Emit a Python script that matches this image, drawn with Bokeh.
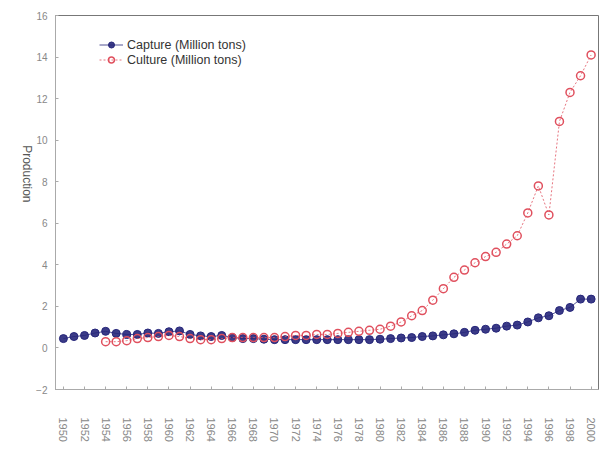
import math
from bokeh.plotting import figure
from bokeh.models import Range1d, FixedTicker, Legend, LegendItem
from bokeh.embed import file_html
from bokeh.resources import INLINE

years = list(range(1950, 2001))
capture = [0.45, 0.55, 0.6, 0.72, 0.8, 0.7, 0.65, 0.65, 0.72, 0.7,
           0.78, 0.82, 0.65, 0.58, 0.55, 0.6, 0.5, 0.45, 0.45, 0.42,
           0.4, 0.4, 0.4, 0.4, 0.4, 0.4, 0.4, 0.4, 0.4, 0.4,
           0.42, 0.45, 0.48, 0.5, 0.55, 0.58, 0.63, 0.68, 0.75, 0.85,
           0.9, 0.95, 1.05, 1.1, 1.25, 1.45, 1.55, 1.8, 1.95, 2.35, 2.35]
culture_years = list(range(1954, 2001))
culture = [0.3, 0.3, 0.35, 0.45, 0.5, 0.55, 0.6, 0.55, 0.45, 0.4,
           0.4, 0.45, 0.5, 0.5, 0.5, 0.5, 0.5, 0.55, 0.6, 0.6,
           0.65, 0.65, 0.7, 0.75, 0.8, 0.85, 0.9, 1.05, 1.25, 1.55,
           1.8, 2.3, 2.85, 3.4, 3.75, 4.1, 4.4, 4.6, 5.0, 5.4,
           6.5, 7.8, 6.4, 10.9, 12.3, 13.1, 14.1]
x_ticks = list(range(1950, 2001, 2))
y_ticks = list(range(-2, 17, 2))

blue = "#26267a"
red = "#e0505e"

p = figure(width=605, height=455, output_backend="svg", toolbar_location=None,
           x_range=Range1d(1949.25, 2000.7), y_range=Range1d(-2, 16),
           min_border_left=55, min_border_right=7, min_border_top=15,
           min_border_bottom=66)
p.background_fill_color = "white"
p.border_fill_color = "white"
p.outline_line_color = "#777777"
p.outline_line_width = 1
p.xgrid.visible = False
p.ygrid.visible = False

for ax in (p.xaxis[0], p.yaxis[0]):
    ax.axis_line_color = "#aaaaaa"
    ax.major_tick_line_color = "#aaaaaa"
    ax.minor_tick_line_color = None
    ax.major_label_text_color = "#888888"
    ax.major_label_text_font = "Liberation Sans"
    ax.major_tick_in = 3
    ax.major_tick_out = 0

p.xaxis.ticker = FixedTicker(ticks=x_ticks)
p.xaxis.major_label_orientation = -math.pi / 2
p.xaxis.major_label_standoff = 28
p.xaxis.major_label_text_font_size = "11px"
p.yaxis.ticker = FixedTicker(ticks=y_ticks)
p.yaxis.major_label_standoff = 8
p.yaxis.major_label_text_font_size = "10px"
p.yaxis.axis_label = "Production"
p.yaxis.axis_label_orientation = -math.pi / 2
p.yaxis.axis_label_text_font = "Liberation Sans"
p.yaxis.axis_label_text_font_size = "12px"
p.yaxis.axis_label_text_font_style = "normal"
p.yaxis.axis_label_text_color = "#555555"
p.yaxis.axis_label_standoff = 6

r1l = p.line(years, capture, line_color=blue, line_width=0.8)
r1 = p.scatter(years, capture, size=8, marker="circle",
               fill_color=blue, line_color=blue, fill_alpha=0.9)
r2l = p.line(culture_years, culture, line_color=red, line_width=0.8,
             line_dash="2 2")
r2 = p.scatter(culture_years, culture, size=8, marker="circle",
               fill_color=None, line_color=red, line_width=1.5)

legend = Legend(items=[
    LegendItem(label="Capture (Million tons)", renderers=[r1l, r1]),
    LegendItem(label="Culture (Million tons)", renderers=[r2l, r2]),
], location=(44, 322))
legend.label_text_font = "Liberation Sans"
legend.label_text_font_size = "12.5px"
legend.label_text_color = "#333333"
legend.border_line_color = None
legend.background_fill_alpha = 0
legend.margin = 0
legend.padding = 0
legend.spacing = 0
legend.label_height = 15
legend.glyph_height = 15
legend.glyph_width = 24
legend.label_standoff = 4
p.add_layout(legend)

open("out.html", "w").write(file_html(p, INLINE))
